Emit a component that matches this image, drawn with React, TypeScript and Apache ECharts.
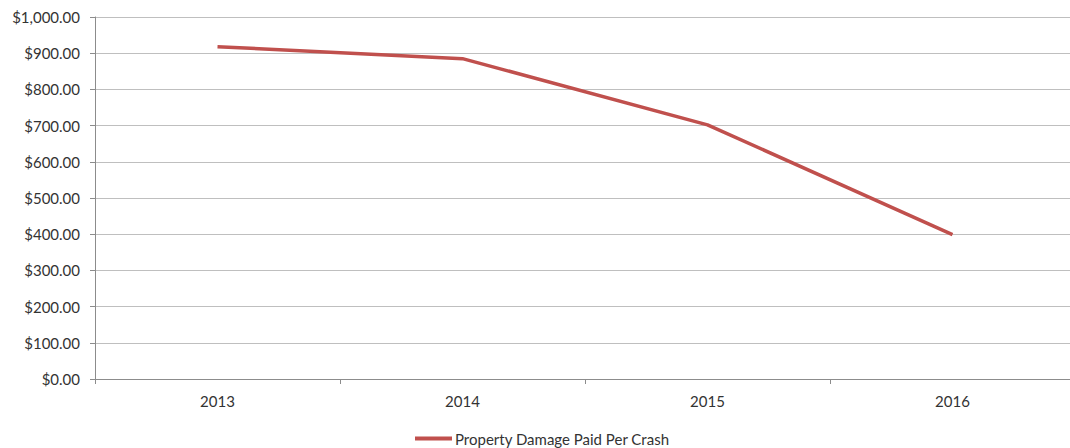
import React, { useEffect, useRef } from "react";
import * as echarts from "echarts";

const years = ["2013", "2014", "2015", "2016"];
const damagePerCrash = [918, 885, 702, 399];
const seriesName = "Property Damage Paid Per Crash";

export default function App() {
  const ref = useRef<HTMLDivElement>(null);
  useEffect(() => {
    if (!ref.current) return;
    const chart = echarts.init(ref.current, undefined, { renderer: "svg" });
    const font = "Lato, 'Open Sans', sans-serif";
    chart.setOption({
      animation: false,
      backgroundColor: "#ffffff",
      grid: { left: 95, right: 5, top: 17, bottom: 69, containLabel: false },
      legend: {
        left: 410,
        top: 426,
        icon: "rect",
        itemWidth: 37,
        itemHeight: 4,
        itemGap: 10,
        textStyle: { fontFamily: font, fontSize: 15, color: "#333333", padding: [0, 0, 0, -2] },
        data: [seriesName],
      },
      xAxis: {
        type: "category",
        data: years,
        boundaryGap: true,
        axisLine: { show: true, lineStyle: { color: "#8c8c8c", width: 1 } },
        axisTick: { show: true, length: 5, lineStyle: { color: "#8c8c8c" } },
        axisLabel: { fontFamily: font, fontSize: 15, color: "#333333", margin: 14 },
        splitLine: { show: false },
      },
      yAxis: {
        type: "value",
        min: 0,
        max: 1000,
        interval: 100,
        axisLine: { show: true, lineStyle: { color: "#8c8c8c", width: 1 } },
        axisTick: { show: true, length: 5, lineStyle: { color: "#8c8c8c" } },
        axisLabel: {
          fontFamily: font,
          fontSize: 15,
          color: "#333333",
          margin: 15,
          formatter: (v: number) =>
            "$" + v.toLocaleString("en-US", { minimumFractionDigits: 2, maximumFractionDigits: 2 }),
        },
        splitLine: { show: true, lineStyle: { color: "#bfbfbf", width: 1 } },
      },
      series: [
        {
          name: seriesName,
          type: "line",
          data: damagePerCrash,
          symbol: "none",
          lineStyle: { color: "#c0504d", width: 3.5 },
          itemStyle: { color: "#c0504d" },
        },
      ],
    });
    return () => chart.dispose();
  }, []);
  return (
    <div style={{ position: "fixed", left: 0, top: 0, width: 1070, height: 448, overflow: "hidden", background: "#fff" }}>
      <div ref={ref} style={{ width: 1080, height: 448 }} />
    </div>
  );
}
